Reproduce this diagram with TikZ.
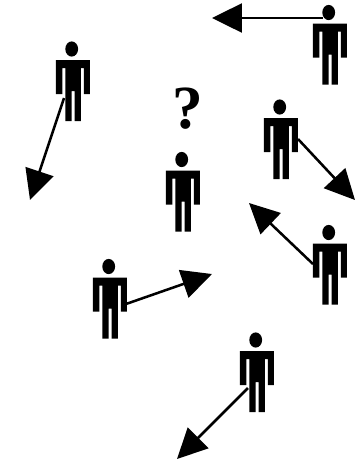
\documentclass[tikz,border=0pt]{standalone}
\usepackage{fontspec}
\setmainfont{Liberation Serif}
\usetikzlibrary{arrows.meta}
\tikzset{
  person/.pic = {
    \fill (-1.3,0) ellipse [x radius=6.4, y radius=7.6];
    \fill (-17,11) -- (17,11) -- (17,45) -- (11,45) -- (11,19) -- (8,19) -- (8,72)
      -- (1.7,72) -- (1.7,42) -- (-1.3,42) -- (-1.3,72) -- (-7.5,72) -- (-7.5,19) -- (-10.7,19)
      -- (-10.7,45) -- (-17,45) -- cycle;
  },
  arr/.style = {-{Triangle[length=30*0.75pt, width=29*0.75pt]}, line width=1.9pt},
}
\begin{document}
\begin{tikzpicture}[x=0.75pt, y=-0.75pt]
  \useasboundingbox (0,0) rectangle (355,462);
  \pic at (73,49) {person};
  \pic at (183,159.5) {person};
  \pic at (330,12.5) {person};
  \pic at (281,107) {person};
  \pic at (330,232.5) {person};
  \pic at (110,266.5) {person};
  \pic at (257,340) {person};
  \node[font=\bfseries\fontsize{46pt}{46pt}\selectfont, inner sep=0pt] (mark) at (188,109) {?};
  % hands and arrow ends
  \coordinate (handA) at (64,98);
  \coordinate (tipA) at (30,200);
  \coordinate (handB) at (323,18);
  \coordinate (tipB) at (212,18);
  \coordinate (handC) at (298,139);
  \coordinate (tipC) at (355,200);
  \coordinate (handD) at (313,264);
  \coordinate (tipD) at (249,203);
  \coordinate (handE) at (126,304);
  \coordinate (tipE) at (212,274);
  \coordinate (handF) at (248,388);
  \coordinate (tipF) at (177,459);
  \draw[arr] (handA) -- (tipA);
  \draw[arr] (handB) -- (tipB);
  \draw[arr] (handC) -- (tipC);
  \draw[arr] (handD) -- (tipD);
  \draw[arr] (handE) -- (tipE);
  \draw[arr] (handF) -- (tipF);
\end{tikzpicture}
\end{document}
